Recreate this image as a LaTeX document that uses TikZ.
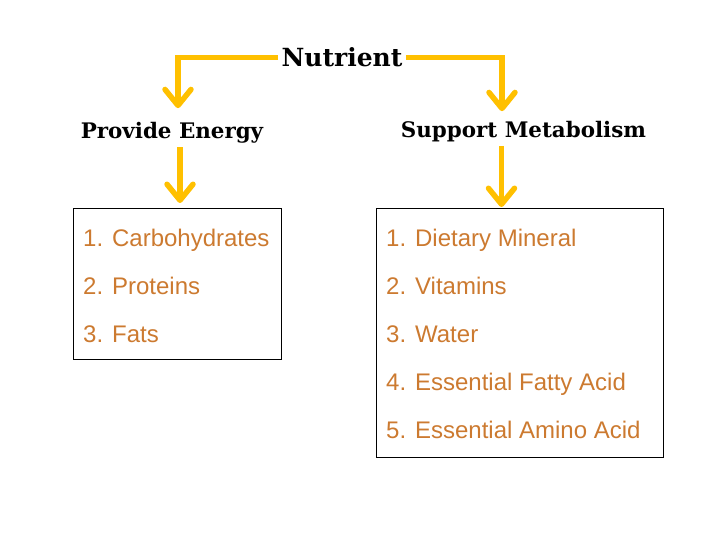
\documentclass[tikz,border=0pt]{standalone}
\usepackage{fontspec}
\setmainfont{DejaVu Serif}
\newfontfamily\itemfont{Liberation Sans}
\usetikzlibrary{arrows.meta}
\definecolor{arrowgold}{HTML}{FFC000}
\definecolor{itembrown}{HTML}{CC7A30}
\begin{document}
\begin{tikzpicture}[x=1pt, y=-1pt,
  head/.style={anchor=base, font=\bfseries\fontsize{21.4}{24}\selectfont},
  item/.style={anchor=base west, inner sep=0pt, text=itembrown, font=\itemfont\fontsize{24}{28}\selectfont},
  listbox/.style={draw, line width=0.8pt, anchor=north west, inner sep=0pt},
  flow/.style={draw=arrowgold, line width=5.5pt, -{Straight Barb[length=16pt, width=26pt, line cap=round, line join=round]}}]
\useasboundingbox (0,0) rectangle (720,540);

% Headings
\node[head, font=\bfseries\fontsize{25}{28}\selectfont] (nutrient) at (342,67) {Nutrient};
\node[head] (energy) at (172,139) {Provide Energy};
\node[head] (metab) at (523.5,138) {Support Metabolism};

% Lists
\node[listbox, minimum width=208pt, minimum height=151pt] (energylist) at (73,208) {};
\node[listbox, minimum width=287pt, minimum height=249pt] (metablist) at (376,208) {};
\foreach \txt [count=\i] in {Carbohydrates, Proteins, Fats}
  \node[item] (energy\i) at (83,{246+48*(\i-1)}) {\i. \txt};
\foreach \txt [count=\i] in {Dietary Mineral, Vitamins, Water, Essential Fatty Acid, Essential Amino Acid}
  \node[item] (metab\i) at (386,{246+48*(\i-1)}) {\i. \txt};

% Arrows
\draw[flow, shorten >=11pt] (nutrient.west) -| ([xshift=6pt]energy.north);
\draw[flow, shorten >=7pt] (nutrient.east) -| ([xshift=-21.5pt]metab.north);
\draw[flow, shorten >=5pt] ([xshift=8pt]energy.south) -- ([xshift=8pt]energy.south |- energylist.north);
\draw[flow, shorten >=1pt] ([xshift=-22pt]metab.south) -- ([xshift=-22pt]metab.south |- metablist.north);

\end{tikzpicture}
\end{document}
